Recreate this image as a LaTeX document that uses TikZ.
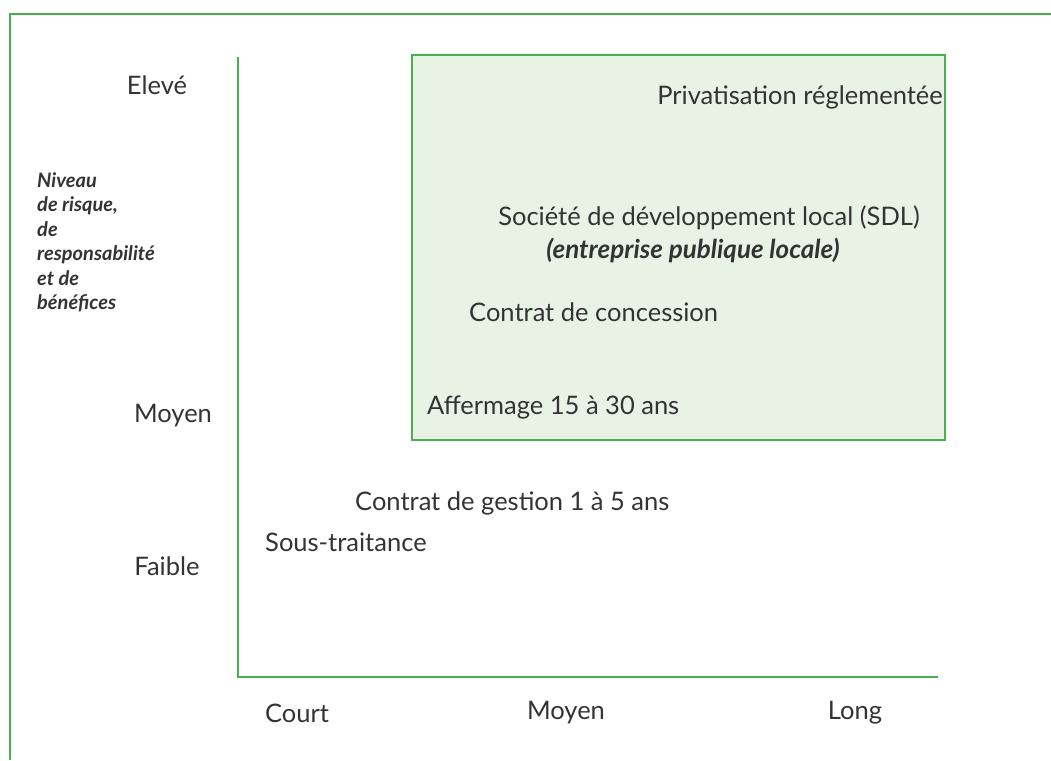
\documentclass[tikz,border=0pt]{standalone}
\usepackage{fontspec}
\setmainfont{Lato}
\definecolor{cadre}{RGB}{72,176,76}
\definecolor{fond}{RGB}{232,243,230}
\definecolor{texte}{RGB}{51,51,51}
\tikzset{
	etiq/.style={inner sep=0pt,text=texte,font=\fontsize{25.5}{29}\selectfont},
	axe/.style={draw=cadre,line width=2.8pt},
}
\begin{document}
\begin{tikzpicture}[x=1pt,y=-1pt]
	\useasboundingbox (0,0) rectangle (1051,760);
	% cadre exterieur
	\draw[axe] (10,760) -- (10,14) -- (1051,14);
	% zone verte
	\draw[axe,fill=fond] (412,55) rectangle (945,440);
	% axes
	\draw[axe] (238,57) -- (238,677) -- (938,677);
	% niveaux
	\node[etiq] (eleve) at (157,85) {Elevé};
	\node[etiq] (moyenv) at (173,416) {Moyen};
	\node[etiq] (faible) at (167,566) {Faible};
	\node[etiq,anchor=north west,align=left,font=\fontsize{20}{24.5}\selectfont\itshape\bfseries] (titre) at (37,172) {Niveau\\de risque,\\de\\responsabilit\'e\\et de\\b\'en\'efices};
	% formules
	\node[etiq,anchor=east] (priv) at (943,97) {Privatisation réglementée};
	\node[etiq] (sdl) at (709,218) {Société de développement local (SDL)};
	\node[etiq,font=\fontsize{26}{29}\selectfont\itshape\bfseries] (epl) at (693,250) {(entreprise publique locale)};
	\node[etiq,anchor=west] (conc) at (469,312) {Contrat de concession};
	\node[etiq,anchor=west] (aff) at (427,407) {Affermage 15 à 30 ans};
	\node[etiq,anchor=west] (gest) at (355,503) {Contrat de gestion 1 à 5 ans};
	\node[etiq,anchor=west] (sous) at (265,542) {Sous-traitance};
	% durees
	\node[etiq] (court) at (297,713) {Court};
	\node[etiq] (moyenh) at (566,713) {Moyen};
	\node[etiq] (long) at (855,713) {Long};
\end{tikzpicture}
\end{document}
